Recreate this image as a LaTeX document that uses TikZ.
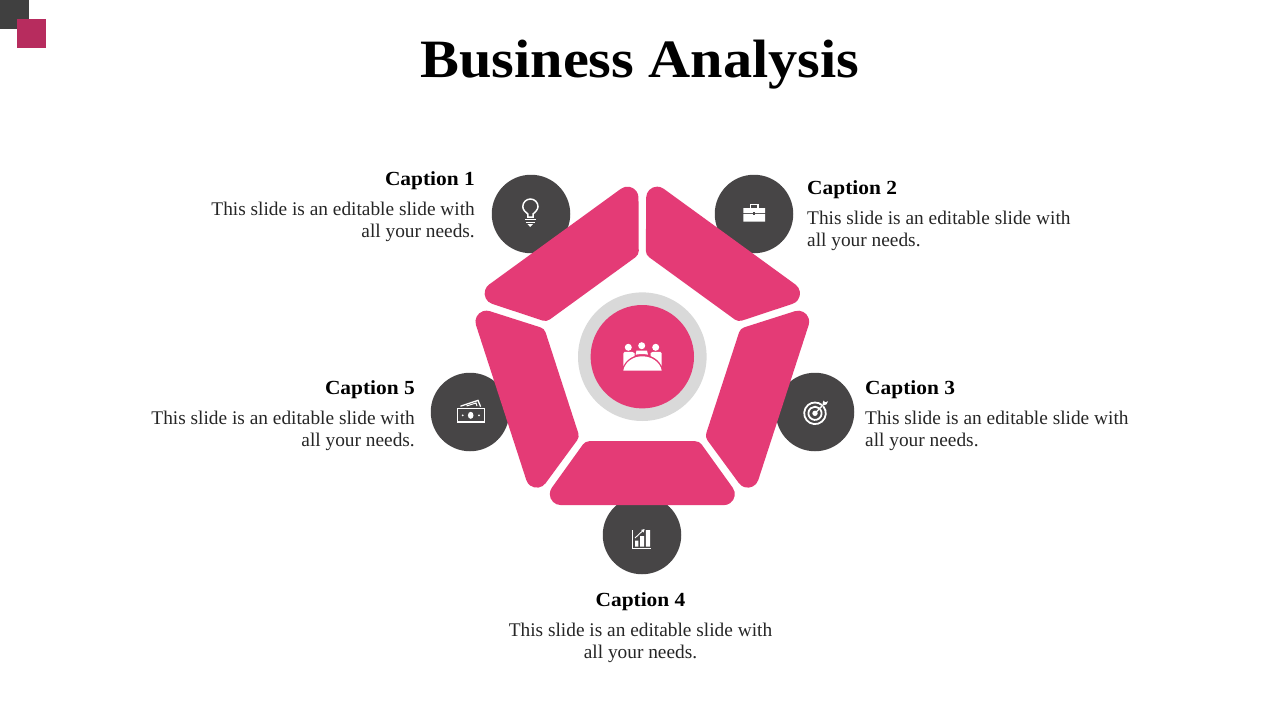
\documentclass[tikz,border=0pt]{standalone}
\usepackage{fontspec}
\setmainfont{Liberation Serif}
\newfontfamily\widefont[FakeStretch=1.08]{Liberation Serif}
\newfontfamily\capfont[FakeStretch=1.07]{Liberation Serif}
\definecolor{pinkseg}{HTML}{E43B76}
\definecolor{darkdot}{HTML}{474546}
\definecolor{ringgray}{HTML}{D9D9D9}
\definecolor{crimson}{HTML}{B72C5E}
\definecolor{darksq}{HTML}{404040}
\definecolor{bodytext}{HTML}{262626}
\tikzset{
  dotnode/.style={circle,fill=darkdot,draw=none,minimum size=78.5pt,inner sep=0pt},
  capnode/.style={font=\fontsize{20}{22}\capfont\bfseries,text=black,inner sep=0pt},
  bodynode/.style={font=\fontsize{19.35}{22}\selectfont,text=bodytext,inner sep=0pt},
  iconline/.style={draw=white,line width=1.5pt,fill=none},
}
\begin{document}
\begin{tikzpicture}[x=1pt,y=-1pt]
\useasboundingbox (0,0) rectangle (1280,720);
\fill[white] (0,0) rectangle (1280,720);
% corner squares
\fill[darksq] (0,0) rectangle (29,29);
\fill[crimson] (17,19) rectangle (46,48);
% title
\node[font=\fontsize{54}{60}\widefont\bfseries,text=black,inner sep=0pt,anchor=base] (title) at (640,77) {Business Analysis};
% dark circles
\node[dotnode] (c1) at (531,214) {};
\node[dotnode] (c2) at (754,214) {};
\node[dotnode] (c3) at (815,412) {};
\node[dotnode] (c4) at (642,535) {};
\node[dotnode] (c5) at (470,412) {};
% pentagon segments
\foreach \a in {0,72,144,216,288}{
  \begin{scope}[shift={(642.3,356.7)},rotate=\a]
    \fill[pinkseg] (52.9,84.5) arc[start angle=-90,end angle=-35.8,radius=8]
      -- (90.4,131) arc[start angle=-35.8,end angle=90,radius=11]
      -- (-81.5,148.4) arc[start angle=90,end angle=215.8,radius=11]
      -- (-59.4,87.8) arc[start angle=215.8,end angle=270,radius=8] -- cycle;
  \end{scope}
}
% centre
\node[circle,fill=ringgray,minimum size=128.6pt,inner sep=0pt] (ring) at (642.3,356.7) {};
\node[circle,fill=pinkseg,minimum size=103.4pt,inner sep=0pt] (hub) at (642.3,356.7) {};
% meeting icon
\fill[white] (628.3,347.3) circle (3.5) (641.7,345.7) circle (3.5) (655.7,347.3) circle (3.5);
\fill[white] (623.3,353.5) -- (624.6,351.8) -- (632,351.8) -- (634.5,353) -- (634.5,356) .. controls (629,358) and (625.5,361.5) .. (623.3,366) -- cycle;
\fill[white] (661.7,353.5) -- (660.4,351.8) -- (653,351.8) -- (650.5,353) -- (650.5,356) .. controls (656,358) and (659.5,361.5) .. (661.7,366) -- cycle;
\fill[white] (636.5,350.5) -- (647,350.5) -- (648,354.7) .. controls (644,353.8) and (640,353.8) .. (635.6,354.7) -- cycle;
\fill[white] (623.3,370.5) .. controls (625,362) and (633,356.3) .. (642.3,356.3) .. controls (651.5,356.3) and (660,362) .. (661.7,370.5) -- cycle;
% bulb icon
\draw[iconline] (527.8,217) -- (527.8,214) .. controls (525.5,212.4) and (522.8,209.6) .. (522.8,206.6) arc[start angle=180,end angle=360,radius=7.6] .. controls (538,209.6) and (535,212.4) .. (533,214) -- (533,217) -- cycle;
\draw[draw=white,line width=1.3pt] (525.2,219.8) -- (535.6,219.8) (525.8,222.4) -- (535,222.4);
\fill[white] (527.4,224) -- (533,224) -- (530.2,227) -- cycle;
% briefcase icon
\fill[white] (743.4,208) -- (765,208) -- (765,213) -- (743.4,213) -- cycle (743.4,214.2) -- (765,214.2) -- (765,221.7) -- (743.4,221.7) -- cycle;
\draw[draw=white,line width=1.3pt] (750.4,208) -- (750.4,204.6) -- (758,204.6) -- (758,208);
\fill[darkdot] (753,212.3) rectangle (755.4,215);
% target icon
\draw[draw=white,line width=1.8pt] (815,413.3) ++(-40:10.8) arc[start angle=-40,end angle=310,radius=10.8];
\draw[draw=white,line width=1.8pt] (815,413.3) ++(-40:6.6) arc[start angle=-40,end angle=310,radius=6.6];
\fill[white] (815,413.3) circle (2.7);
\draw[draw=white,line width=1.3pt] (815,413.3) -- (824,404);
\fill[white] (822.5,403.5) -- (823.5,400.5) -- (825.2,402.3) -- (828,401.3) -- (826.5,404.3) -- (824.2,405.2) -- cycle;
% chart icon
\draw[draw=white,line width=1pt] (632.3,530) -- (632.3,548.3) -- (650.7,548.3);
\fill[white] (635,540.5) rectangle (638.4,546.5) (640.2,536) rectangle (644,546.5) (645.8,530) rectangle (650,546.5);
\draw[draw=white,line width=0.9pt] (635,538) -- (643,530.5);
\fill[white] (641,530) -- (644.6,529) -- (643.6,532.6) -- cycle;
% cash icon
\draw[iconline] (457.4,408.6) rectangle (484.6,422);
\fill[white] (470.7,415.3) ellipse (2.8 and 3.5);
\fill[white] (462.7,415.3) circle (1) (479,415.3) circle (1);
\draw[draw=white,line width=1.3pt] (460.5,406.2) -- (478,400.4) -- (480.6,406.6);
\draw[draw=white,line width=1pt] (466.5,406) -- (476,403) -- (477,406);
% captions
\node[capnode,anchor=base east] (cap1) at (475,185) {Caption 1};
\node[bodynode,anchor=base east] (b1a) at (475,215) {This slide is an editable slide with};
\node[bodynode,anchor=base east] (b1b) at (475,237) {all your needs.};
\node[capnode,anchor=base west] (cap2) at (807,194) {Caption 2};
\node[bodynode,anchor=base west] (b2a) at (807,224) {This slide is an editable slide with};
\node[bodynode,anchor=base west] (b2b) at (807,246) {all your needs.};
\node[capnode,anchor=base west] (cap3) at (865,394) {Caption 3};
\node[bodynode,anchor=base west] (b3a) at (865,424) {This slide is an editable slide with};
\node[bodynode,anchor=base west] (b3b) at (865,446) {all your needs.};
\node[capnode,anchor=base] (cap4) at (640.5,606) {Caption 4};
\node[bodynode,anchor=base] (b4a) at (640.5,636) {This slide is an editable slide with};
\node[bodynode,anchor=base] (b4b) at (640.5,658) {all your needs.};
\node[capnode,anchor=base east] (cap5) at (415,394) {Caption 5};
\node[bodynode,anchor=base east] (b5a) at (415,424) {This slide is an editable slide with};
\node[bodynode,anchor=base east] (b5b) at (415,446) {all your needs.};
\end{tikzpicture}
\end{document}
